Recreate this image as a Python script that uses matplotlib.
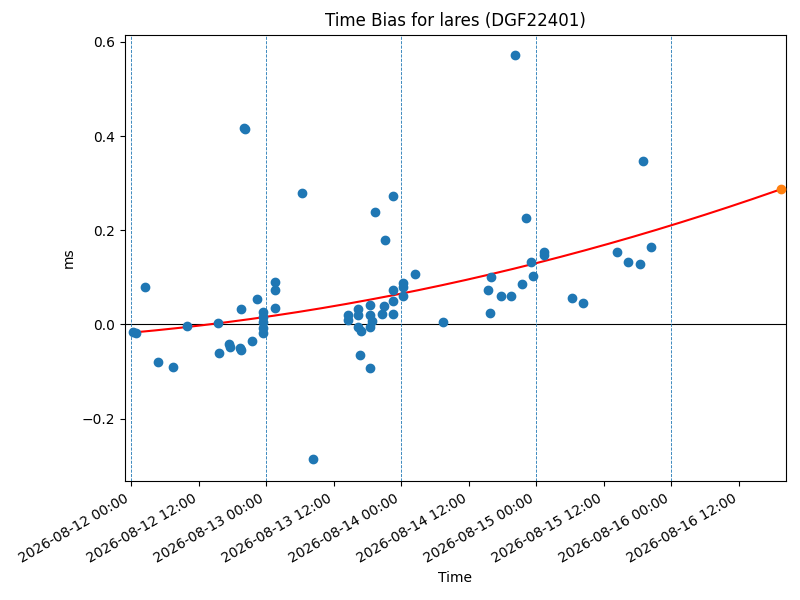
import numpy as np
import matplotlib
matplotlib.use("Agg")
import matplotlib.pyplot as plt
import matplotlib.dates as mdates
from datetime import datetime, timedelta

start = datetime(2026, 8, 12, 0, 0)

# Observation times (hours after 2026-08-12 00:00) and time bias (ms)
obs_hours = [0.3, 0.8, 2.4, 4.7, 7.5, 10.0, 15.5, 15.7, 17.4, 17.6,
             19.5, 19.4, 19.6, 21.5, 22.3, 23.5, 23.5, 23.5, 23.5, 23.5,
             25.5, 25.6, 25.5, 20.0, 20.3, 30.4, 32.4, 38.5, 38.5, 40.4,
             40.4, 40.4, 40.9, 40.6, 42.4, 42.4, 42.8, 42.5, 42.4, 43.3,
             44.5, 44.9, 45.1, 46.5, 46.5, 46.5, 46.5, 48.4, 48.4, 48.4,
             50.4, 55.4, 63.4, 63.8, 63.9, 65.7, 67.5, 68.2, 69.4, 70.1,
             71.0, 71.4, 73.4, 73.4, 78.4, 80.3, 86.3, 88.3, 90.5, 91.0,
             92.4]
obs_bias = [-0.017, -0.019, 0.080, -0.079, -0.091, -0.003, 0.002, -0.060, -0.042, -0.049,
            0.032, -0.051, -0.055, -0.035, 0.054, 0.027, 0.016, 0.006, -0.007, -0.019,
            0.089, 0.074, 0.035, 0.417, 0.416, 0.280, -0.286, 0.020, 0.009, 0.032,
            0.020, -0.005, -0.015, -0.066, 0.041, 0.021, 0.007, -0.006, -0.092, 0.239,
            0.023, 0.039, 0.180, 0.273, 0.074, 0.050, 0.023, 0.088, 0.080, 0.061,
            0.106, 0.006, 0.074, 0.025, 0.100, 0.061, 0.061, 0.572, 0.086, 0.225,
            0.133, 0.103, 0.153, 0.147, 0.055, 0.046, 0.154, 0.133, 0.129, 0.347,
            0.165]

# Fitted trend curve
fit_hours = [0.0, 24.2, 48.1, 71.9, 115.4]
fit_bias = [-0.018, 0.017, 0.066, 0.129, 0.287]

# Predicted point
pred_hours = [115.4]
pred_bias = [0.287]

day_lines = [0, 24, 48, 72, 96]

def to_dt(hs):
    return [start + timedelta(hours=h) for h in hs]

fig = plt.figure(figsize=(8, 6), dpi=100)
ax = fig.add_subplot(111)
fig.subplots_adjust(left=0.156, right=0.982, top=0.942, bottom=0.198)

ax.scatter(to_dt(obs_hours), obs_bias, color="C0", zorder=3)

coef = np.polyfit(fit_hours, fit_bias, 2)
hh = np.linspace(fit_hours[0], fit_hours[-1], 300)
ax.plot(to_dt(hh), np.polyval(coef, hh), color="red", zorder=2)

ax.scatter(to_dt(pred_hours), pred_bias, color="C1", zorder=4)

ax.axhline(0, color="black", linewidth=0.8, zorder=1)
for d in day_lines:
    ax.axvline(start + timedelta(hours=d), color="C0", linestyle="--", linewidth=0.6, zorder=1)

ax.set_xlim(start + timedelta(hours=-1.12), start + timedelta(hours=116.3))
ax.set_ylim(-0.333, 0.615)

ax.xaxis.set_major_locator(mdates.HourLocator(byhour=[0, 12]))
ax.xaxis.set_major_formatter(mdates.DateFormatter("%Y-%m-%d %H:%M"))
for lbl in ax.get_xticklabels():
    lbl.set_rotation(30)
    lbl.set_ha("right")

ax.set_title("Time Bias for lares (DGF22401)")
ax.set_xlabel("Time")
ax.set_ylabel("ms")

fig.savefig("out.png", dpi=100)
